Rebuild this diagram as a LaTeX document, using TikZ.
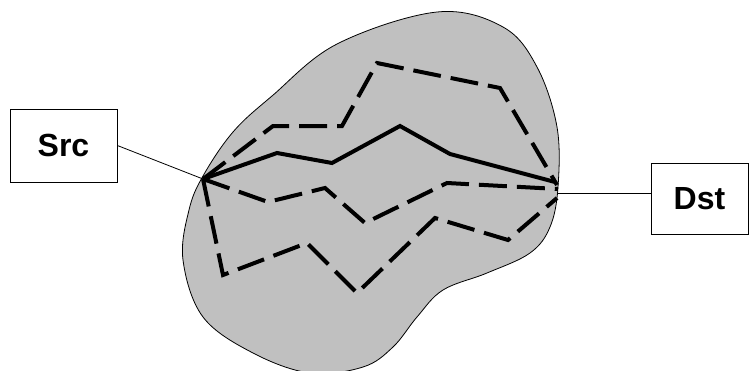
\documentclass[tikz,border=0pt]{standalone}
\usepackage{fontspec}
\setmainfont{Liberation Sans}
\begin{document}
\begin{tikzpicture}[x=1pt,y=-1pt,
  box/.style={draw=black,line width=0.8pt,fill=white,inner sep=0pt,font=\fontsize{32}{36}\selectfont\bfseries},
  route/.style={line width=4pt,line join=miter},
  altroute/.style={route,dash pattern=on 28pt off 10pt},
  thin/.style={line width=0.8pt}]
\useasboundingbox (0,0) rectangle (749,370);
% region
\draw[thin,fill={rgb,255:red,192;green,192;blue,192}]
  plot[smooth cycle,tension=0.6] coordinates {
   (203,176) (233,132) (272,96) (337,44) (437,12) (503,27) (537,67) (557,127)
   (558,187) (550,227) (530,253) (487,273) (443,290) (417,317) (393,347)
   (363,367) (310,373) (253,353) (203,317) (183,260) (189,210)};
% end points
\coordinate (S) at (203,179);
\coordinate (D) at (557,185);
\coordinate (D2) at (558,189);
\coordinate (D3) at (557,198);
% boxes
\node[box,minimum width=107pt,minimum height=73pt] (src) at (63.5,145.5) {Src};
\node[box,minimum width=97pt,minimum height=71pt] (dst) at (699.5,198.5) {Dst};
\coordinate (dstin) at (651,193);
\coordinate (dstout) at (558,193);
\draw[thin] (src.east) -- (S);
\draw[thin] (dstout) -- (dstin);
% routes
\draw[altroute] (S) -- (273,126) -- (342,126) -- (377,63) -- (500,88) -- (D);
\draw[route] (S) -- (277,153) -- (332,163) -- (400,126) -- (450,154) -- (555,182);
\draw[altroute] (S) -- (268,202) -- (325,188) -- (365,223) -- (447,183) -- (D2);
\draw[altroute] (S) -- (223,275) -- (307,243) -- (357,293) -- (435,218) -- (508,240) -- (D3);
\end{tikzpicture}
\end{document}
